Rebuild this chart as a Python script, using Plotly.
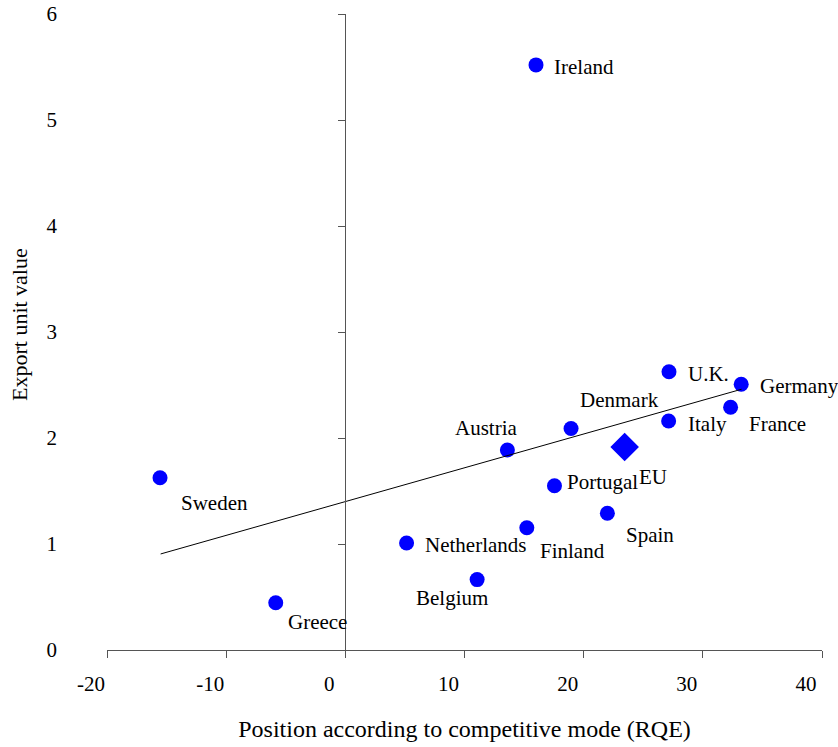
import plotly.graph_objects as go

# Country positions: competitive mode (RQE) vs export unit value
countries = ["Ireland", "Sweden", "Greece", "Netherlands", "Belgium", "Finland",
             "Portugal", "Spain", "Austria", "Denmark", "Italy", "U.K.",
             "Germany", "France"]
rqe = [16.0, -15.55, -5.84, 5.14, 11.06, 15.23, 17.55, 21.99, 13.6, 18.94,
       27.13, 27.16, 33.22, 32.33]
unit_value = [5.52, 1.625, 0.446, 1.01, 0.664, 1.154, 1.55, 1.29, 1.887, 2.09,
              2.16, 2.625, 2.507, 2.29]

# EU aggregate
eu_label = ["EU"]
eu_rqe = [23.44]
eu_value = [1.915]

# Fitted trend line end points
trend_rqe = [-15.5, 33.25]
trend_value = [0.906, 2.46]

x_ticks = [-20, -10, 0, 10, 20, 30, 40]
y_ticks = [0, 1, 2, 3, 4, 5, 6]

x_title = "Position according to competitive mode (RQE)"
y_title = "Export unit value"

# label offsets in pixels (xshift, yshift, xanchor)
label_offsets = {
    "Ireland": (16, -2, "left"),
    "Sweden": (19, -25, "left"),
    "Greece": (10, -19, "left"),
    "Netherlands": (16, -2, "left"),
    "Belgium": (-25, -18, "center"),
    "Finland": (11, -23, "left"),
    "Portugal": (11, 4, "left"),
    "Spain": (17, -22, "left"),
    "Austria": (-21, 22, "center"),
    "Denmark": (7, 28, "left"),
    "Italy": (17, -3, "left"),
    "U.K.": (17, -2, "left"),
    "Germany": (17, -2, "left"),
    "France": (16, -17, "left"),
    "EU": (12, -30, "left"),
}

FONT = "Liberation Serif"
FSIZE = 21
AXIS_COLOR = "#555555"

fig = go.Figure()

fig.add_trace(go.Scatter(
    x=rqe, y=unit_value, mode="markers",
    marker=dict(color="#0000ff", size=15, line=dict(width=0)),
    showlegend=False, hoverinfo="skip",
))
fig.add_trace(go.Scatter(
    x=eu_rqe, y=eu_value, mode="markers",
    marker=dict(color="#0000ff", size=22, symbol="diamond", line=dict(width=0)),
    showlegend=False, hoverinfo="skip",
))
fig.add_trace(go.Scatter(
    x=trend_rqe, y=trend_value, mode="lines",
    line=dict(color="black", width=1),
    showlegend=False, hoverinfo="skip",
))
# carrier for the vertical axis drawn at x = 0
fig.add_trace(go.Scatter(x=[], y=[], yaxis="y2", showlegend=False))

annotations = []
for name, xv, yv in list(zip(countries, rqe, unit_value)) + list(zip(eu_label, eu_rqe, eu_value)):
    dx, dy, anchor = label_offsets[name]
    annotations.append(dict(
        x=xv, y=yv, xref="x", yref="y", text=name, showarrow=False,
        xanchor=anchor, yanchor="middle", xshift=dx, yshift=dy,
        font=dict(family=FONT, size=FSIZE, color="black"),
    ))

# vertical axis title, placed left of the tick labels
annotations.append(dict(
    x=0, y=0.5, xref="paper", yref="paper", text=y_title, showarrow=False,
    textangle=-90, xanchor="center", yanchor="middle", xshift=-88, yshift=7,
    font=dict(family=FONT, size=22, color="black"),
))

x_min, x_max = x_ticks[0], x_ticks[-1]
y_min, y_max = y_ticks[0], y_ticks[-1]

fig.update_layout(
    width=838, height=747,
    margin=dict(l=107, r=16, t=14, b=97, autoexpand=False),
    paper_bgcolor="white", plot_bgcolor="white",
    font=dict(family=FONT, size=FSIZE, color="black"),
    annotations=annotations,
    xaxis=dict(
        range=[x_min, x_max], domain=[0, 1], automargin=False,
        tickvals=x_ticks, ticktext=[str(v) for v in x_ticks],
        tickfont=dict(family=FONT, size=FSIZE),
        showline=True, linecolor=AXIS_COLOR, linewidth=1,
        ticks="outside", ticklen=7, tickcolor=AXIS_COLOR, tickwidth=1,
        showgrid=False, zeroline=False,
        ticklabelshift=-16, ticklabelstandoff=8,
        title=dict(text=x_title, font=dict(family=FONT, size=24), standoff=24),
    ),
    yaxis=dict(
        range=[y_min, y_max], automargin=False,
        tickvals=y_ticks, ticktext=[str(v) for v in y_ticks],
        tickfont=dict(family=FONT, size=FSIZE),
        showline=False, ticks="", showgrid=False, zeroline=False,
        ticklabelstandoff=49,
    ),
    yaxis2=dict(
        range=[y_min, y_max], overlaying="y", anchor="free", automargin=False,
        position=(0 - x_min) / (x_max - x_min), side="left",
        tickvals=y_ticks, showticklabels=False,
        showline=True, linecolor=AXIS_COLOR, linewidth=1,
        ticks="outside", ticklen=7, tickcolor=AXIS_COLOR, tickwidth=1,
        showgrid=False, zeroline=False,
    ),
)

fig.write_html("out.html")
